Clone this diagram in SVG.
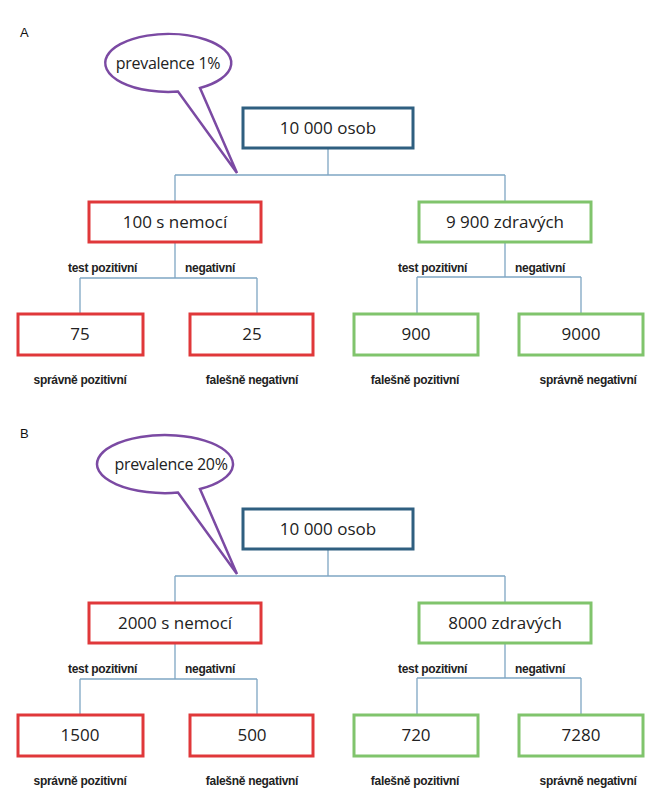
<svg xmlns="http://www.w3.org/2000/svg" width="647" height="800" viewBox="0 0 647 800">
<style>
.b{fill:#fff;stroke-width:3}
.top{stroke:#2f5f80}.red{stroke:#e0383a}.grn{stroke:#80c46c}
.t{font-family:"Open Sans","Liberation Sans",sans-serif;font-size:17px;fill:#222;text-anchor:middle}
.ct{font-size:16px;letter-spacing:-0.3px}
.s{font-family:"Liberation Sans",sans-serif;font-size:12px;font-weight:bold;fill:#222;letter-spacing:-0.3px}
.c{fill:none;stroke:#7fa6c3;stroke-width:1.3}
.call{fill:#fff;stroke:#7b4aa3;stroke-width:2.5;stroke-linejoin:miter}
.lbl{font-family:"Liberation Sans",sans-serif;font-size:13px;fill:#111}
</style>
<rect width="647" height="800" fill="#fff"/>
<g id="panelA">
<text class="lbl" x="20" y="37">A</text>
<g id="connectorsA">
<path class="c" d="M328 149V175M175 175H505M175 175V202M505 175V202"/>
<path class="c" d="M175 242V278M80 278H257M80 278V313M257 278V313"/>
<path class="c" d="M505 242V277M417 277H581M417 277V314M581 277V314"/>
</g>
<g id="calloutA"><path class="call" d="M200 88 L237 173 L178 91.6 A63 29 0 1 1 200 88 Z"/><text class="t ct" x="168" y="69">prevalence 1%</text></g>
<g id="a_root"><rect class="b top" x="243" y="108" width="170" height="40"/><text class="t" x="328" y="134">10 000 osob</text></g>
<g id="a_sick"><rect class="b red" x="89" y="202" width="172" height="40"/><text class="t" x="175" y="228">100 s nemocí</text></g>
<g id="a_healthy"><rect class="b grn" x="419" y="202" width="172" height="40"/><text class="t" x="505" y="228">9 900 zdravých</text></g>
<text class="s" x="68" y="272">test pozitivní</text><text class="s" x="185" y="272">negativní</text>
<text class="s" x="398" y="272">test pozitivní</text><text class="s" x="515" y="272">negativní</text>
<g id="a_tp"><rect class="b red" x="18" y="314" width="125" height="41"/><text class="t" x="80" y="340">75</text></g>
<g id="a_fn"><rect class="b red" x="190" y="314" width="123" height="41"/><text class="t" x="252" y="340">25</text></g>
<g id="a_fp"><rect class="b grn" x="354" y="314" width="124" height="41"/><text class="t" x="416" y="340">900</text></g>
<g id="a_tn"><rect class="b grn" x="519" y="314" width="124" height="41"/><text class="t" x="581" y="340">9000</text></g>
<text class="s" x="80" y="384" text-anchor="middle">správně pozitivní</text>
<text class="s" x="252" y="384" text-anchor="middle">falešně negativní</text>
<text class="s" x="415" y="384" text-anchor="middle">falešně pozitivní</text>
<text class="s" x="588" y="384" text-anchor="middle">správně negativní</text>
</g>
<g id="panelB" transform="translate(0,401)">
<text class="lbl" x="20" y="37">B</text>
<g id="connectorsB">
<path class="c" d="M328 149V175M175 175H505M175 175V202M505 175V202"/>
<path class="c" d="M175 242V278M80 278H257M80 278V313M257 278V313"/>
<path class="c" d="M505 242V277M417 277H581M417 277V314M581 277V314"/>
</g>
<g id="calloutB"><path class="call" d="M200 88 L237 173 L178 91.6 A68 29 0 1 1 200 88 Z"/><text class="t ct" x="171" y="69">prevalence 20%</text></g>
<g id="b_root"><rect class="b top" x="243" y="108" width="170" height="40"/><text class="t" x="328" y="134">10 000 osob</text></g>
<g id="b_sick"><rect class="b red" x="89" y="202" width="172" height="40"/><text class="t" x="175" y="228">2000 s nemocí</text></g>
<g id="b_healthy"><rect class="b grn" x="419" y="202" width="172" height="40"/><text class="t" x="505" y="228">8000 zdravých</text></g>
<text class="s" x="68" y="272">test pozitivní</text><text class="s" x="185" y="272">negativní</text>
<text class="s" x="398" y="272">test pozitivní</text><text class="s" x="515" y="272">negativní</text>
<g id="b_tp"><rect class="b red" x="18" y="314" width="125" height="41"/><text class="t" x="80" y="340">1500</text></g>
<g id="b_fn"><rect class="b red" x="190" y="314" width="123" height="41"/><text class="t" x="252" y="340">500</text></g>
<g id="b_fp"><rect class="b grn" x="354" y="314" width="124" height="41"/><text class="t" x="416" y="340">720</text></g>
<g id="b_tn"><rect class="b grn" x="519" y="314" width="124" height="41"/><text class="t" x="581" y="340">7280</text></g>
<text class="s" x="80" y="384" text-anchor="middle">správně pozitivní</text>
<text class="s" x="252" y="384" text-anchor="middle">falešně negativní</text>
<text class="s" x="415" y="384" text-anchor="middle">falešně pozitivní</text>
<text class="s" x="588" y="384" text-anchor="middle">správně negativní</text>
</g>
</svg>
